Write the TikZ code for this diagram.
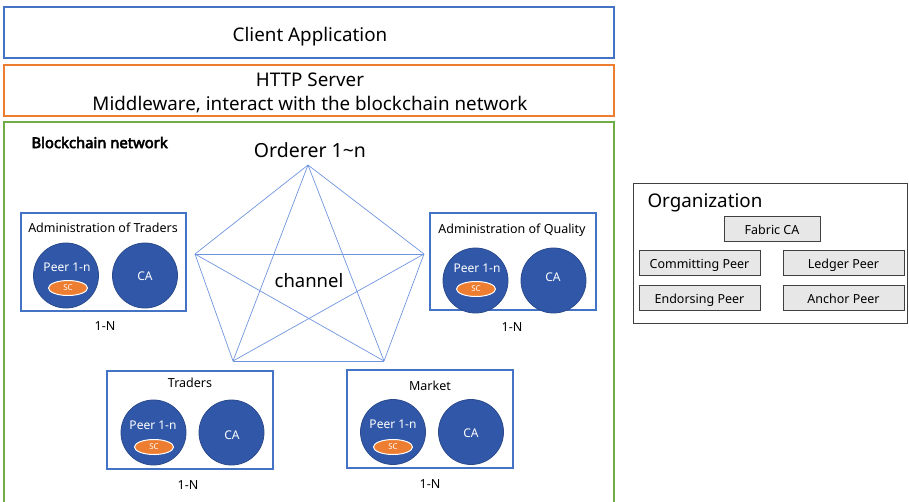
\documentclass[tikz,border=0pt]{standalone}
\usepackage{fontspec}
\setmainfont{Noto Sans}[AutoFakeBold=3.5]
\usetikzlibrary{shapes.geometric}
\definecolor{clientblue}{HTML}{4472C4}
\definecolor{httporange}{HTML}{ED7D31}
\definecolor{netgreen}{HTML}{70AD47}
\definecolor{peerblue}{HTML}{3158A8}
\definecolor{peeredge}{HTML}{2A4A8C}
\definecolor{chanblue}{HTML}{6F95DE}
\definecolor{orgedge}{HTML}{404040}
\definecolor{orgfill}{HTML}{E7E7E7}
\tikzset{
  px/.style={x=1pt,y=-1pt},
  bigtext/.style={font=\fontsize{18.8}{24}\selectfont},
  orgbox/.style={draw=clientblue, line width=1.2pt},
  peer/.style={circle, fill=peerblue, draw=peeredge, line width=0.8pt, minimum size=65pt, inner sep=0pt},
  sc/.style={ellipse, fill=httporange, draw=white, line width=1pt, minimum width=39pt, minimum height=15pt, inner sep=0pt, text=white, font=\fontsize{8}{9}\selectfont},
  peerlabel/.style={text=white, font=\fontsize{12}{14}\selectfont},
  title/.style={font=\fontsize{12.5}{15}\selectfont},
  mult/.style={font=\fontsize{12.5}{15}\selectfont},
  chan/.style={draw=chanblue, line width=0.7pt},
  role/.style={draw=orgedge, fill=orgfill, line width=1pt, inner sep=0pt, text height=11pt, text depth=0pt, font=\fontsize{12.5}{15}\selectfont},
}
\begin{document}
\begin{tikzpicture}[px]
\useasboundingbox (0,0) rectangle (909,501);

% client and middleware layers
\draw[clientblue, line width=1.2pt] (4,7) rectangle (614,58);
\node[bigtext] (client) at (310,36.5) {Client Application};
\draw[httporange, line width=1.2pt] (4,65) rectangle (614,116);
\node[bigtext, align=center] (http) at (310,93) {HTTP Server\\Middleware, interact with the blockchain network};

% blockchain network frame
\draw[netgreen, line width=1.2pt] (4,503) -- (4,122) -- (614,122) -- (614,503);
\node[font=\bfseries\fontsize{14.8}{18}\selectfont, anchor=west] (bcn) at (28,142.5) {Blockchain network};
\node[font=\fontsize{19.5}{23}\selectfont] (orderer) at (310,150) {Orderer 1\textasciitilde n};

% channel: complete graph on five orderer points
\coordinate (o1) at (308,165);
\coordinate (o2) at (195,254);
\coordinate (o3) at (424,254);
\coordinate (o4) at (233,361);
\coordinate (o5) at (384,361);
\foreach \a/\b in {o1/o2,o1/o3,o1/o4,o1/o5,o2/o3,o2/o4,o2/o5,o3/o4,o3/o5,o4/o5}
  \draw[chan] (\a) -- (\b);
\node[font=\fontsize{18.5}{22}\selectfont] (channel) at (309,281) {channel};

% organisation: Administration of Traders
\draw[orgbox] (21,213) rectangle (186,311);
\node[title] (t1) at (103,228) {Administration of Traders};
\node[peer] (p1) at (66,275.5) {};
\node[peerlabel] (p1l) at (67,267) {Peer 1-n};
\node[sc] (sc1) at (68,288) {SC};
\node[peer] (ca1) at (145,275.5) {};
\node[peerlabel] (ca1l) at (145,276) {CA};
\node[mult] (n1) at (105,326) {1-N};

% organisation: Administration of Quality
\draw[orgbox] (430,213) rectangle (596,310);
\node[title] (t2) at (512,230) {Administration of Quality};
\node[peer] (p2) at (475.5,280.5) {};
\node[peerlabel] (p2l) at (477,268) {Peer 1-n};
\node[sc] (sc2) at (476,289) {SC};
\node[peer] (ca2) at (553.5,280.5) {};
\node[peerlabel] (ca2l) at (553,277) {CA};
\node[mult] (n2) at (512,327) {1-N};

% organisation: Traders
\draw[orgbox] (107,371) rectangle (273,469);
\node[title] (t3) at (190,383) {Traders};
\node[peer] (p3) at (153.5,432.5) {};
\node[peerlabel] (p3l) at (153,425) {Peer 1-n};
\node[sc] (sc3) at (154,447) {SC};
\node[peer] (ca3) at (231.5,432.5) {};
\node[peerlabel] (ca3l) at (232,435) {CA};
\node[mult] (n3) at (188,485) {1-N};

% organisation: Market
\draw[orgbox] (347,370) rectangle (513,468);
\node[title] (t4) at (430,386) {Market};
\node[peer] (p4) at (393,432) {};
\node[peerlabel] (p4l) at (393,424) {Peer 1-n};
\node[sc] (sc4) at (393,447) {SC};
\node[peer] (ca4) at (471,432) {};
\node[peerlabel] (ca4l) at (471,433) {CA};
\node[mult] (n4) at (430,484) {1-N};

% legend: roles inside an organization
\draw[orgedge, line width=1pt] (633,183) rectangle (907,323);
\node[bigtext, anchor=west] (org) at (644,203) {Organization};
\node[role, minimum width=96pt, minimum height=25pt] (fca) at (772,228.5) {Fabric CA};
\node[role, minimum width=121pt, minimum height=25pt] (cp) at (699.5,262.5) {Committing Peer};
\node[role, minimum width=121pt, minimum height=25pt] (lp) at (843.5,262.5) {Ledger Peer};
\node[role, minimum width=121pt, minimum height=25pt] (ep) at (699.5,297.5) {Endorsing Peer};
\node[role, minimum width=121pt, minimum height=25pt] (ap) at (843.5,297.5) {Anchor Peer};
\end{tikzpicture}
\end{document}
